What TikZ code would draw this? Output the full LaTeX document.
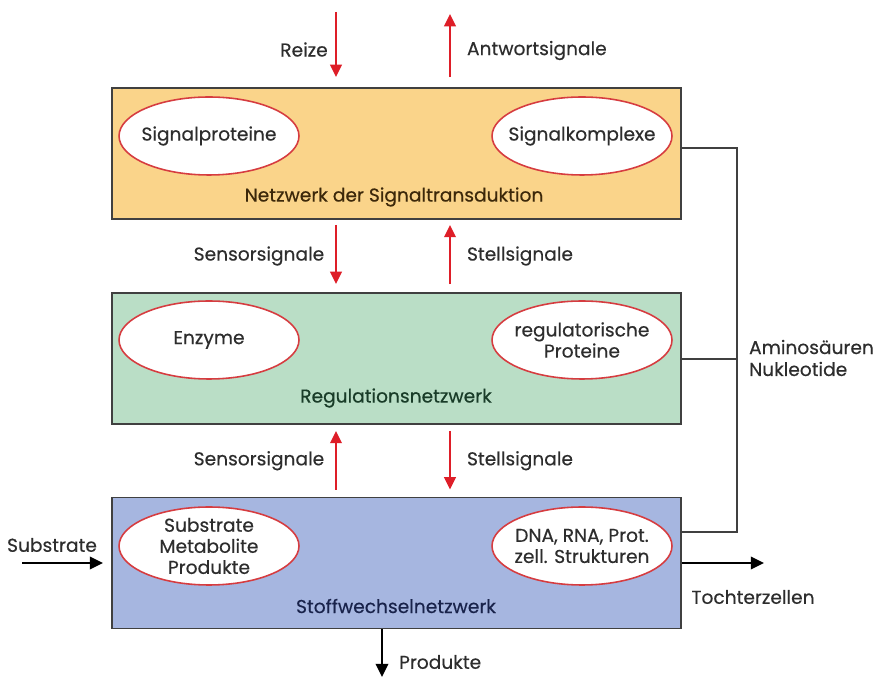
\documentclass[tikz,border=0pt]{standalone}
\usepackage{fontspec}
\setmainfont{Poppins}[FakeBold=0.4]
\usetikzlibrary{shapes.geometric,arrows.meta}

\definecolor{gelb}{RGB}{250,212,138}
\definecolor{gruen}{RGB}{186,222,198}
\definecolor{blau}{RGB}{166,182,224}
\definecolor{rot}{RGB}{222,30,40}
\definecolor{ovalrot}{RGB}{214,60,64}
\definecolor{rahmen}{RGB}{64,64,64}
\definecolor{schrift}{RGB}{45,45,45}
\definecolor{braun}{RGB}{60,40,10}
\definecolor{dunkelgruen}{RGB}{25,60,40}
\definecolor{dunkelblau}{RGB}{25,35,75}

\tikzset{
    kasten/.style={draw=rahmen, line width=1.1pt, minimum width=11.38cm, minimum height=2.62cm, inner sep=0pt},
    oval/.style={ellipse, draw=ovalrot, fill=white, line width=0.9pt, minimum width=3.6cm, minimum height=1.56cm, inner xsep=-13pt, inner ysep=-6pt, align=center, font=\fontsize{10.6}{12}\selectfont, text=schrift},
    txt/.style={font=\fontsize{10.6}{12.5}\selectfont, text=schrift, inner sep=1pt},
    pfeilrot/.style={draw=rot, line width=1.4pt, -{Triangle[length=7pt,width=6.5pt]}},
    pfeil/.style={draw=black, line width=1.4pt, -{Triangle[length=7.5pt,width=7pt]}},
    linie/.style={draw=rahmen, line width=1.1pt}
}

\begin{document}
\begin{tikzpicture}[x=0.02cm, y=-0.02cm]
    \useasboundingbox (0,0) rectangle (873,678);
    % die drei Netzwerke
    \path node[kasten, fill=gelb] (SN) at (396.5,153.5) {}
        node[kasten, fill=gruen] (RN) at (396.5,358.5) {}
        node[kasten, fill=blau] (SW) at (396.5,563) {};
    \path node[oval] (sigprot) at (209,136) {Signalproteine}
        node[oval] (sigkompl) at (582,136) {Signalkomplexe}
        node[oval] (enzyme) at (209,340) {Enzyme}
        node[oval] (regprot) at (582,340) {regulatorische\\Proteine}
        node[oval] (substr) at (209,546) {Substrate\\Metabolite\\Produkte}
        node[oval] (dna) at (582,546) {DNA, RNA, Prot.\\zell. Strukturen};
    \path node[txt, text=braun] (SNtext) at (394,197) {Netzwerk der Signaltransduktion}
        node[txt, text=dunkelgruen] (RNtext) at (396,398) {Regulationsnetzwerk}
        node[txt, text=dunkelblau] (SWtext) at (396,606) {Stoffwechselnetzwerk};
    % rote Signalpfeile
    \coordinate (reize) at (336,12);
    \coordinate (antwort) at (450,14);
    \draw[pfeilrot, shorten >=0.2cm] (reize) -- node[txt, left=3pt] (reizetext) {Reize} (reize |- SN.north);
    \draw[pfeilrot, shorten <=0.2cm] (antwort |- SN.north) -- node[txt, right=8pt] (antworttext) {Antwortsignale} (antwort);
    \draw[pfeilrot, shorten <=0.1cm, shorten >=0.16cm] (reize |- SN.south) -- node[txt, left=5pt] (sens1) {Sensorsignale} (reize |- RN.north);
    \draw[pfeilrot, shorten <=0.16cm, shorten >=0.1cm] (antwort |- RN.north) -- node[txt, right=8pt] (stell1) {Stellsignale} (antwort |- SN.south);
    \draw[pfeilrot, shorten <=0.14cm, shorten >=0.12cm] (reize |- SW.north) -- node[txt, left=5pt] (sens2) {Sensorsignale} (reize |- RN.south);
    \draw[pfeilrot, shorten <=0.12cm, shorten >=0.14cm] (antwort |- RN.south) -- node[txt, right=8pt] (stell2) {Stellsignale} (antwort |- SW.north);
    % Stoffe rein und raus
    \coordinate (sub) at (22,563);
    \coordinate (toch) at (764,563);
    \coordinate (prod) at (382,677);
    \draw[pfeil, shorten >=0.16cm] (sub) -- (SW.west);
    \draw[pfeil] (SW.east) -- (toch);
    \draw[pfeil] (prod |- SW.south) -- (prod);
    \path node[txt] (subtext) at (52,545) {Substrate}
        node[txt] (tochtext) at (753,597) {Tochterzellen}
        node[txt, anchor=west] (prodtext) at (397,662) {Produkte};
    % Aminosaeuren, Nukleotide
    \coordinate (A1) at (737,148);
    \coordinate (A2) at (737,532);
    \coordinate (A3) at (737,359);
    \draw[linie] (SN.east |- A1) -- (A1) -- (A2) -- (SW.east |- A2);
    \draw[linie] (RN.east |- A3) -- (A3);
    \node[txt, anchor=west, align=left] (amino) at (747,358) {Aminosäuren\\Nukleotide};
\end{tikzpicture}
\end{document}
